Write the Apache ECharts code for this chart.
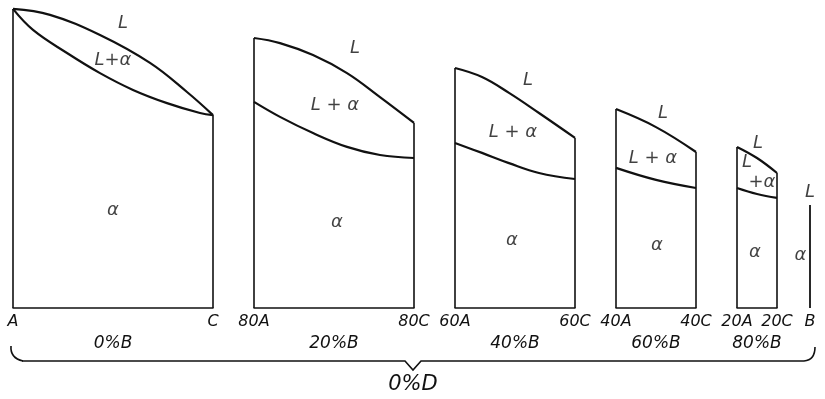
<!DOCTYPE html>
<html>
<head>
<meta charset="utf-8">
<script src="https://cdn.jsdelivr.net/npm/echarts@6/dist/echarts.min.js"></script>
<style>html,body{margin:0;padding:0;background:#fff}#c{width:825px;height:399px}</style>
</head>
<body>
<div id="c"></div>
<script>
// Composition of B for each isopleth section (A+C make up the rest)
const percentB = [0, 20, 40, 60, 80, 100];
const sectionNames = ['0%B', '20%B', '40%B', '60%B', '80%B', ''];
const leftLabels = ['A', '80A', '60A', '40A', '20A', 'B'];
const rightLabels = ['C', '80C', '60C', '40C', '20C', ''];
const overallLabel = '0%D';

// Liquidus / solidus curves: [%C, temperature (relative units 0-100)]
const liquidus0 = [[0, 99.7], [18.5, 97.7], [43.5, 91], [68.5, 81.7], [87, 72], [100, 64.3]];
const solidus0 = [[0, 99.7], [10, 92.7], [27, 85], [43.5, 78.3], [60, 72.7], [77, 68.3], [93.5, 65], [100, 64.3]];
const liquidus20 = [[0, 90], [13, 88.3], [29.5, 84.3], [46.5, 78.3], [63, 70.3], [80, 61.7]];
const solidus20 = [[0, 68.7], [13, 63.7], [29.5, 58.3], [46.5, 53.7], [63, 51], [80, 50]];
const liquidus40 = [[0, 80], [13.5, 77], [27, 71.7], [42, 65], [60, 56.7]];
const solidus40 = [[0, 55], [13.5, 51.7], [27, 48.3], [42, 45], [60, 43]];
const liquidus60 = [[0, 66.3], [20, 60.3], [40, 52]];
const solidus60 = [[0, 46.7], [20, 42.7], [40, 40]];
const liquidus80 = [[0, 53.7], [10, 50], [20, 45]];
const solidus80 = [[0, 40], [10, 38], [20, 36.7]];
const meltingB = 34.3;

// Phase-field labels: [%C, temperature, text]
const phaseLabels0 = [[55, 95, 'L'], [50, 82.7, 'L+α'], [50, 32.7, 'α']];
const phaseLabels20 = [[50.5, 86.7, 'L'], [40.5, 67.7, 'L + α'], [41.5, 28.7, 'α']];
const phaseLabels40 = [[36.5, 76, 'L'], [29, 58.7, 'L + α'], [28.5, 22.7, 'α']];
const phaseLabels60 = [[23.5, 65, 'L'], [18.5, 50, 'L + α'], [20.5, 21, 'α']];
const phaseLabels80 = [[10.5, 55, 'L'], [5, 48.7, 'L'], [12.5, 42, '+α'], [9, 18.7, 'α']];
const phaseLabels100 = [[0, 38.7, 'L'], [-8, 17.7, 'α']];

const liquidi = [liquidus0, liquidus20, liquidus40, liquidus60, liquidus80];
const solidi = [solidus0, solidus20, solidus40, solidus60, solidus80];
const phaseLabels = [phaseLabels0, phaseLabels20, phaseLabels40, phaseLabels60, phaseLabels80, phaseLabels100];

const FONT = 'DejaVu Sans';
const INK = '#111';
const PX_PER_UNIT = 2;
const GAP = 41;
const TOP = 8, HEIGHT = 300;

const grids = [], xAxes = [], yAxes = [], series = [];
let left = 13;
percentB.forEach((b, i) => {
  const span = 100 - b;
  const isB = span === 0;
  const xmin = isB ? -10 : 0, xmax = isB ? 10 : span;
  const gLeft = isB ? left - 10 * PX_PER_UNIT : left;
  grids.push({ left: gLeft, top: TOP, width: (xmax - xmin) * PX_PER_UNIT, height: HEIGHT });
  xAxes.push({
    gridIndex: i, type: 'value', min: xmin, max: xmax, interval: isB ? 10 : span,
    axisLine: { show: !isB, onZero: false, lineStyle: { color: INK, width: 1.5 } },
    axisTick: { show: false }, splitLine: { show: false },
    axisLabel: {
      margin: 6, fontFamily: FONT, fontStyle: 'italic', fontSize: 16, color: INK,
      showMinLabel: true, showMaxLabel: true,
      formatter: v => isB ? (v === 0 ? leftLabels[i] : '') : (v === 0 ? leftLabels[i] : rightLabels[i])
    },
    name: sectionNames[i], nameLocation: 'middle', nameGap: 27,
    nameTextStyle: { fontFamily: FONT, fontStyle: 'italic', fontSize: 17, color: INK }
  });
  yAxes.push({ gridIndex: i, type: 'value', min: 0, max: 100, show: false });

  if (isB) {
    series.push({ type: 'line', xAxisIndex: i, yAxisIndex: i, symbol: 'none', silent: true,
      data: [[0, 0], [0, meltingB]], lineStyle: { color: INK, width: 1.8 } });
  } else {
    const liq = liquidi[i], sol = solidi[i];
    series.push({ type: 'line', xAxisIndex: i, yAxisIndex: i, symbol: 'none', silent: true,
      data: [[0, 0], [0, liq[0][1]]], lineStyle: { color: INK, width: 1.6 } });
    series.push({ type: 'line', xAxisIndex: i, yAxisIndex: i, symbol: 'none', silent: true,
      data: [[span, 0], [span, liq[liq.length - 1][1]]], lineStyle: { color: INK, width: 1.6 } });
    series.push({ type: 'line', xAxisIndex: i, yAxisIndex: i, symbol: 'none', silent: true,
      smooth: 0.4, data: liq, lineStyle: { color: INK, width: 2.2 } });
    series.push({ type: 'line', xAxisIndex: i, yAxisIndex: i, symbol: 'none', silent: true,
      smooth: 0.4, data: sol, lineStyle: { color: INK, width: 2.2 } });
  }
  series.push({ type: 'scatter', xAxisIndex: i, yAxisIndex: i, symbolSize: 0, silent: true, clip: false,
    data: phaseLabels[i].map(p => ({ value: [p[0], p[1]], name: p[2] })),
    label: { show: true, position: 'inside', formatter: p => p.name,
      fontFamily: FONT, fontStyle: 'italic', fontSize: 18, color: INK } });

  left += span * PX_PER_UNIT + GAP;
});

const chart = echarts.init(document.getElementById('c'), null, { renderer: 'canvas' });
const braceStyle = { stroke: INK, lineWidth: 1.6, fill: null };
chart.setOption({
  animation: false,
  backgroundColor: '#fff',
  grid: grids, xAxis: xAxes, yAxis: yAxes, series: series,
  graphic: [
    { type: 'bezierCurve', shape: { x1: 11, y1: 346, x2: 23, y2: 361, cpx1: 10, cpy1: 358 }, style: braceStyle },
    { type: 'polyline', shape: { points: [[22, 361], [405, 361], [413, 370], [421, 361], [804, 361]] }, style: braceStyle },
    { type: 'bezierCurve', shape: { x1: 804, y1: 361, x2: 815, y2: 347, cpx1: 815, cpy1: 360 }, style: braceStyle },
    { type: 'text', x: 413, y: 385, style: { text: overallLabel, fontFamily: FONT, fontStyle: 'italic', fontSize: 21,
      fill: INK, align: 'center', verticalAlign: 'middle' } }
  ]
});
</script>
</body>
</html>
